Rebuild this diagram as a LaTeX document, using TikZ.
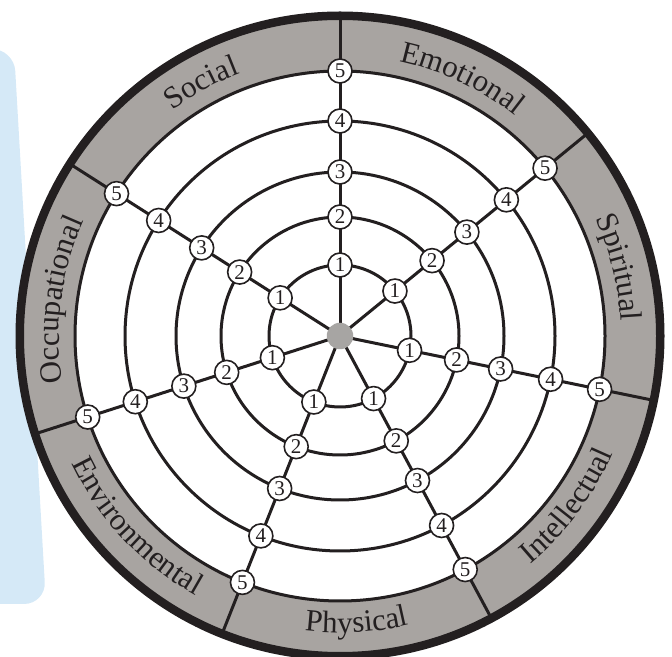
\documentclass[tikz,border=0pt]{standalone}
\usepackage{fontspec}
\setmainfont{Liberation Serif}
\usetikzlibrary{decorations.text}
\definecolor{bandgray}{HTML}{A8A4A1}
\definecolor{dotgray}{HTML}{A7A5A3}
\definecolor{ink}{HTML}{231F20}
\definecolor{panelblue}{HTML}{D5E9F7}
\pgfdeclarelayer{back}
\pgfdeclarelayer{mid}
\pgfsetlayers{back,mid,main}
\newcommand\labfont{\fontsize{31}{31}\selectfont}
\begin{document}
\begin{tikzpicture}[x=1pt,y=1pt,
  ringline/.style={draw=ink, line width=3pt},
  spokeline/.style={draw=ink, line width=3pt, line join=round},
  num/.style={circle, draw=ink, fill=white, line width=1.6pt, minimum size=24pt, inner sep=0pt, font=\fontsize{21}{21}\selectfont, text=ink},
  uplabel/.style={decorate, decoration={text along path, text align=center, text={|\labfont\color{ink}|#1}}},
  lowlabel/.style={decorate, decoration={text along path, text align=center, text={|\labfont\color{ink}|#1}}}
]
\useasboundingbox (0,0) rectangle (672,656);
\begin{pgfonlayer}{back}
  % side panel
  \fill[panelblue, rounded corners=22pt] (-40,607) -- (14,607) -- (46,52) -- (-40,52) -- cycle;
\end{pgfonlayer}
\begin{scope}[shift={(340,320)}]
  \begin{pgfonlayer}{back}
    \fill[bandgray] (0,0) circle[radius=320.25];
    \draw[ink, line width=8.5pt] (0,0) circle[radius=320.25];
    \fill[white] (0,0) circle[radius=265];
    \foreach \r in {71,119,164,215,265}
      \draw[ringline] (0,0) circle[radius=\r];
  \end{pgfonlayer}
  % centre dot
  \node[circle, fill=dotgray, minimum size=26.5pt, inner sep=0pt] (dot) at (0,0) {};
  % spokes with numbered nodes
  \foreach \i/\ang in {1/90, 2/39.3, 3/-11.6, 4/-61.8, 5/-111.6, 6/-162.2, 7/147.5} {
    \foreach \k/\r in {1/71, 2/119, 3/164, 4/215, 5/265} {
      \node[num] (n-\i-\k) at (\ang:\r) {\k};
    }
    \coordinate (o-\i) at (\ang:318);
    \begin{pgfonlayer}{mid}
      \draw[spokeline] (dot.center) -- (n-\i-1.center) -- (n-\i-2.center) -- (n-\i-3.center)
        -- (n-\i-4.center) -- (n-\i-5.center) -- (o-\i);
    \end{pgfonlayer}
  }
  % sector labels (upper: clockwise, lower: counter-clockwise)
  \path[uplabel=Social] (148.75:281) arc[start angle=148.75, end angle=88.75, radius=281];
  \path[uplabel=Emotional] (94.65:281) arc[start angle=94.65, end angle=34.65, radius=281];
  \path[uplabel=Spiritual] (43.85:281) arc[start angle=43.85, end angle=-16.15, radius=281];
  \path[uplabel=Occupational] (202.65:281) arc[start angle=202.65, end angle=142.65, radius=281];
  \path[lowlabel=Intellectual] (-66.7:297) arc[start angle=-66.7, end angle=-6.7, radius=297];
  \path[lowlabel=Physical] (-116.7:297) arc[start angle=-116.7, end angle=-56.7, radius=297];
  \path[lowlabel=Environmental] (-166.9:297) arc[start angle=-166.9, end angle=-106.9, radius=297];
\end{scope}
\end{tikzpicture}
\end{document}
